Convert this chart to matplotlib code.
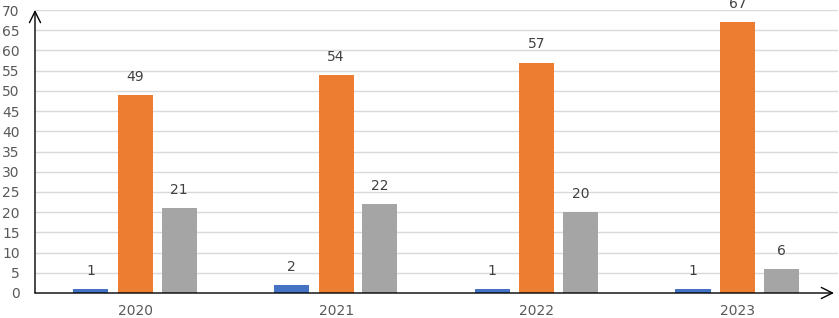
import numpy as np
import matplotlib
matplotlib.use("Agg")
import matplotlib.pyplot as plt

years = ["2020", "2021", "2022", "2023"]
blue_vals = [1, 2, 1, 1]
orange_vals = [49, 54, 57, 67]
gray_vals = [21, 22, 20, 6]

colors = ["#4472C4", "#ED7D31", "#A5A5A5"]
series = [blue_vals, orange_vals, gray_vals]
offsets = [-0.222, 0.0, 0.218]
width = 0.175

fig = plt.figure(figsize=(8.39, 3.18), dpi=100)
ax = fig.add_axes([35 / 839, 1 - 293 / 318, 803 / 839, 283 / 318])

x = np.arange(len(years))
for vals, off, c in zip(series, offsets, colors):
    bars = ax.bar(x + off, vals, width=width, color=c, zorder=3)
    for b, v in zip(bars, vals):
        ax.annotate(str(v), (b.get_x() + b.get_width() / 2, v),
                    xytext=(0, 8), textcoords="offset points",
                    ha="center", va="bottom", fontsize=10, color="#404040")

ax.set_xlim(-0.5, 3.5)
ax.set_ylim(0, 70)
ax.set_yticks(range(0, 71, 5))
ax.set_xticks(x)
ax.set_xticklabels(years)
ax.tick_params(axis="y", length=0, pad=11, labelsize=10, labelcolor="#595959")
ax.tick_params(axis="x", length=0, pad=8, labelsize=10, labelcolor="#595959")
ax.grid(axis="y", color="#D9D9D9", linewidth=1, zorder=0)
for s in ax.spines.values():
    s.set_visible(False)

# axis lines with open arrowheads
ax.annotate("", xy=(0, 1.0), xytext=(0, 0), xycoords="axes fraction",
            arrowprops=dict(arrowstyle="->", color="black", lw=1,
                            mutation_scale=20, shrinkA=0, shrinkB=0),
            annotation_clip=False)
ax.annotate("", xy=(0.995, 0), xytext=(0, 0), xycoords="axes fraction",
            arrowprops=dict(arrowstyle="->", color="black", lw=1,
                            mutation_scale=20, shrinkA=0, shrinkB=0),
            annotation_clip=False)

fig.savefig("out.png", dpi=100)
